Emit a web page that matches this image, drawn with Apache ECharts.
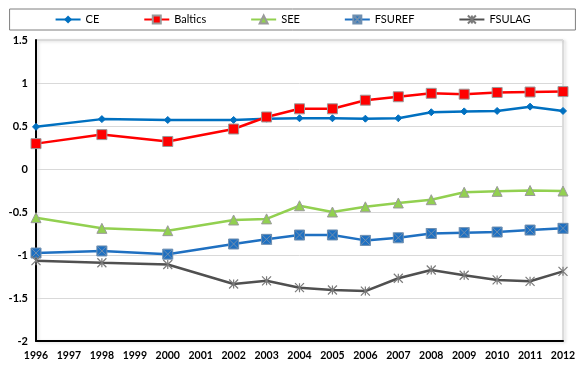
<!DOCTYPE html>
<html><head><meta charset="utf-8">
<script src="https://cdn.jsdelivr.net/npm/echarts@6/dist/echarts.min.js"></script>
<style>html,body{margin:0;padding:0;background:#fff}#c{width:585px;height:369px}</style>
</head><body><div id="c"></div>
<script>
const years = ['1996','1997','1998','1999','2000','2001','2002','2003','2004','2005','2006','2007','2008','2009','2010','2011','2012'];
const yTicks = [-2,-1.5,-1,-0.5,0,0.5,1,1.5];
const ce      = [0.49, null, 0.58, null, 0.57, null, 0.57, 0.585, 0.59, 0.59, 0.585, 0.59, 0.66, 0.67, 0.675, 0.725, 0.675];
const baltics = [0.295, null, 0.40, null, 0.32, null, 0.465, 0.605, 0.70, 0.70, 0.80, 0.84, 0.88, 0.87, 0.89, 0.895, 0.90];
const see     = [-0.566, null, -0.69, null, -0.717, null, -0.593, -0.58, -0.427, -0.50, -0.44, -0.395, -0.357, -0.27, -0.26, -0.25, -0.256];
const fsuref  = [-0.977, null, -0.953, null, -0.99, null, -0.872, -0.818, -0.768, -0.767, -0.83, -0.80, -0.75, -0.74, -0.733, -0.71, -0.69];
const fsulag  = [-1.066, null, -1.09, null, -1.11, null, -1.337, -1.30, -1.38, -1.407, -1.42, -1.27, -1.174, -1.236, -1.29, -1.306, -1.19];

const font = 'Lato, "Open Sans", sans-serif';
const chart = echarts.init(document.getElementById('c'), null, {renderer:'canvas'});
function mk(name, data, color, symbol, size, extra) {
  return Object.assign({
    name, type:'line', data, connectNulls:true, symbol, symbolSize:size,
    lineStyle:{color, width:2.5},
    itemStyle:{color, borderColor:'#9a9a9a', borderWidth:1},
    emphasis:{disabled:true}, animation:false
  }, extra||{});
}
chart.setOption({
  animation:false,
  legend:{
    left:'center', top:9, padding:[5,45], itemGap:44, itemWidth:25, itemHeight:10,
    borderColor:'#7f7f7f', borderWidth:1,
    textStyle:{fontFamily:font, fontSize:11, color:'#000'},
    data:['CE','Baltics','SEE','FSUREF','FSULAG']
  },
  grid:{left:36, right:22, top:40, bottom:28, show:true, borderColor:'#bfbfbf', borderWidth:1,
        shadowColor:'rgba(0,0,0,0.25)', shadowBlur:3, shadowOffsetX:2, shadowOffsetY:1},
  xAxis:{type:'category', data:years, boundaryGap:false,
    axisLine:{onZero:false, lineStyle:{color:'#000', width:2}}, axisTick:{show:false},
    axisLabel:{interval:0, fontFamily:font, fontSize:10.5, color:'#000', margin:9, fontWeight:'bold'},
    splitLine:{show:false}},
  yAxis:{type:'value', min:-2, max:1.5, interval:0.5,
    axisLine:{show:true, lineStyle:{color:'#000', width:2}}, axisTick:{show:false},
    axisLabel:{fontFamily:font, fontSize:11, color:'#000', margin:8, fontWeight:'bold'},
    splitLine:{lineStyle:{color:'#d9d9d9', width:1}}},
  series:[
    mk('CE', ce, '#0070C0', 'diamond', 7, {itemStyle:{color:'#0070C0', borderColor:'#0070C0'}}),
    mk('Baltics', baltics, '#FF0000', 'rect', 10),
    mk('SEE', see, '#92D050', 'triangle', 10),
    mk('FSUREF', fsuref, '#1F70C1', 'path://M0,0L10,0L10,10L0,10Z M0,0L10,10 M10,0L0,10', 10,
       {itemStyle:{color:'#1F70C1', borderColor:'#6f8fb0', borderWidth:1}}),
    mk('FSULAG', fsulag, '#505050', 'path://M0,0L10,10M10,0L0,10M5,0L5,10', 9,
       {itemStyle:{color:'#505050', borderColor:'#7a7a7a', borderWidth:1.2}})
  ]
});
</script></body></html>
